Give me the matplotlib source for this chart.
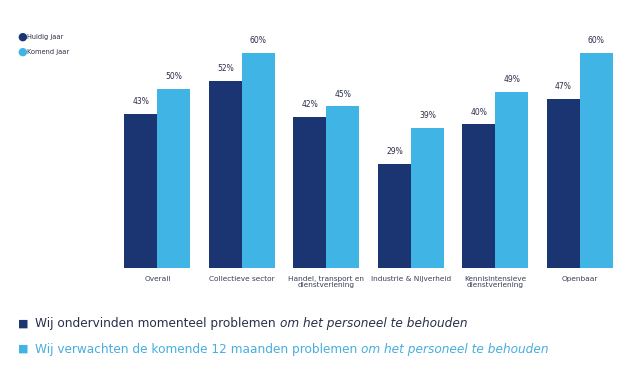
import numpy as np
import matplotlib
matplotlib.use('Agg')
from matplotlib import pyplot as plt

categories = ['Overall', 'Collectieve sector', 'Handel, transport en\ndienstverlening',
              'Industrie & Nijverheid', 'Kennisintensieve\ndienstverlening', 'Openbaar']
huidig = [43, 52, 42, 29, 40, 47]
komend = [50, 60, 45, 39, 49, 60]
series_names = ['Huidig jaar', 'Komend jaar']

dark = '#1b3573'
light = '#3fb4e5'
text_col = '#2b2f4a'

fig = plt.figure(figsize=(6.4, 3.72), dpi=100)
ax = fig.add_axes([0.18, 0.2796, 0.792, 0.632])

x = np.arange(len(categories))
w = 0.39
b1 = ax.bar(x - w/2, huidig, w, color=dark)
b2 = ax.bar(x + w/2, komend, w, color=light)
for bars, vals in ((b1, huidig), (b2, komend)):
    for b, v in zip(bars, vals):
        ax.text(b.get_x() + b.get_width()/2, v + 2.2, f'{v}%', ha='center', va='bottom',
                fontsize=5.5, color=text_col)

ax.set_xlim(-0.5, len(categories) - 0.5)
ax.set_ylim(0, 65.5)
ax.set_xticks(x)
ax.set_xticklabels(categories, fontsize=5.3, color='#3a3f55', linespacing=1.0)
ax.tick_params(axis='x', length=0, pad=6)
ax.set_yticks([])
for s in ax.spines.values():
    s.set_visible(False)

# small legend top-left
for i, (name, c) in enumerate(zip(series_names, [dark, light])):
    y = 1 - (37 + 15*i) / 372
    fig.text(22/640, y, '\u25cf', color=c, fontsize=8, ha='center', va='center')
    fig.text(27/640, y, name, color=text_col, fontsize=4.8, ha='left', va='center')

# bottom notes
notes = [('Wij ondervinden momenteel problemen ', 'om het personeel te behouden', text_col, dark),
         ('Wij verwachten de komende 12 maanden problemen ', 'om het personeel te behouden', '#47aedd', light)]
for i, (plain, ital, tc, mc) in enumerate(notes):
    y = 1 - (324 + 25*i) / 372
    fig.text(23/640, y, '\u25a0', color=mc, fontsize=8, ha='center', va='center')
    t = fig.text(35/640, y, plain, color=tc, fontsize=8.7, ha='left', va='center')
    ax.annotate(ital, xy=(1, 0.5), xycoords=t, xytext=(0, 0), textcoords='offset points',
                color=tc, fontsize=8.7, style='italic', ha='left', va='center',
                annotation_clip=False)

fig.savefig('out.png', dpi=100, facecolor='white')
